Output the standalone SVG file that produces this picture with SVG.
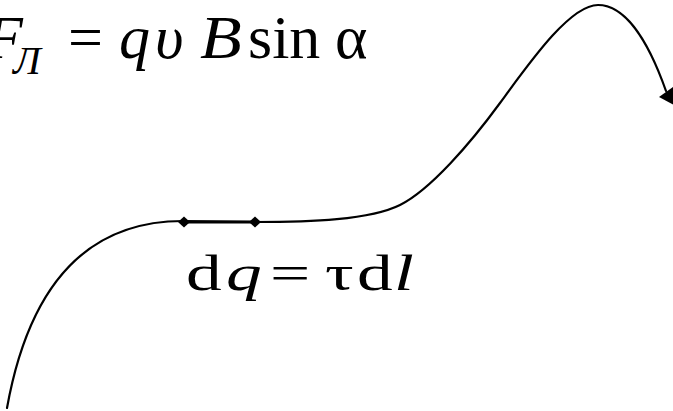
<svg xmlns="http://www.w3.org/2000/svg" width="673" height="411" viewBox="0 0 673 411">
<style>
.t{font-family:"Liberation Serif","Times New Roman",serif;fill:#000}
.i{font-style:italic}
.f1{font-size:62px}
.sub{font-size:41px}
.f2{font-size:51px}
.c{fill:none;stroke:#000;stroke-width:2.2;stroke-linecap:round}
</style>
<rect width="673" height="411" fill="#fff"/>
<g id="formula-lorentz">
<text class="t i f1" x="-15" y="58">F</text>
<text class="t i sub" x="13" y="74">Л</text>
<text class="t f1" x="68" y="58">=</text>
<text class="t i f1" x="119" y="58">q</text>
<text class="t i f1" x="155" y="58">υ</text>
<text class="t i f1" transform="translate(200,58) scale(1.1,1)">B</text>
<text class="t f1" x="248" y="58">sin</text>
<text class="t f1" x="335" y="58">α</text>
</g>
<g id="formula-charge">
<text class="t f2" transform="translate(186,290) scale(1.4,1)">d</text>
<text class="t i f2" transform="translate(226,290) scale(1.4,1)">q</text>
<text class="t f2" transform="translate(270,290) scale(1.4,1)">=</text>
<text class="t f2" transform="translate(325,290) scale(1.4,1)">τ</text>
<text class="t f2" transform="translate(357,290) scale(1.4,1)">d</text>
<text class="t i f2" transform="translate(394,290) scale(1.4,1)">l</text>
</g>
<g id="connectors">
<path class="c" d="M7,408 C30,280 90,221 183,221 L255,222 C310,222 370,220 400,205 C430,190 470,144 500,103 C530,62 570,5 598,5 C625,5 648,40 666,91"/>
<line x1="184" y1="222" x2="255" y2="222" stroke="#000" stroke-width="3"/>
<polygon points="674,105 659,97 673,87" fill="#000"/>
</g>
<g id="element-start">
<polygon points="178,222 184,216.5 190,222 184,227.5" fill="#000"/>
</g>
<g id="element-end">
<polygon points="249,222 255,216.5 261,222 255,227.5" fill="#000"/>
</g>
</svg>
